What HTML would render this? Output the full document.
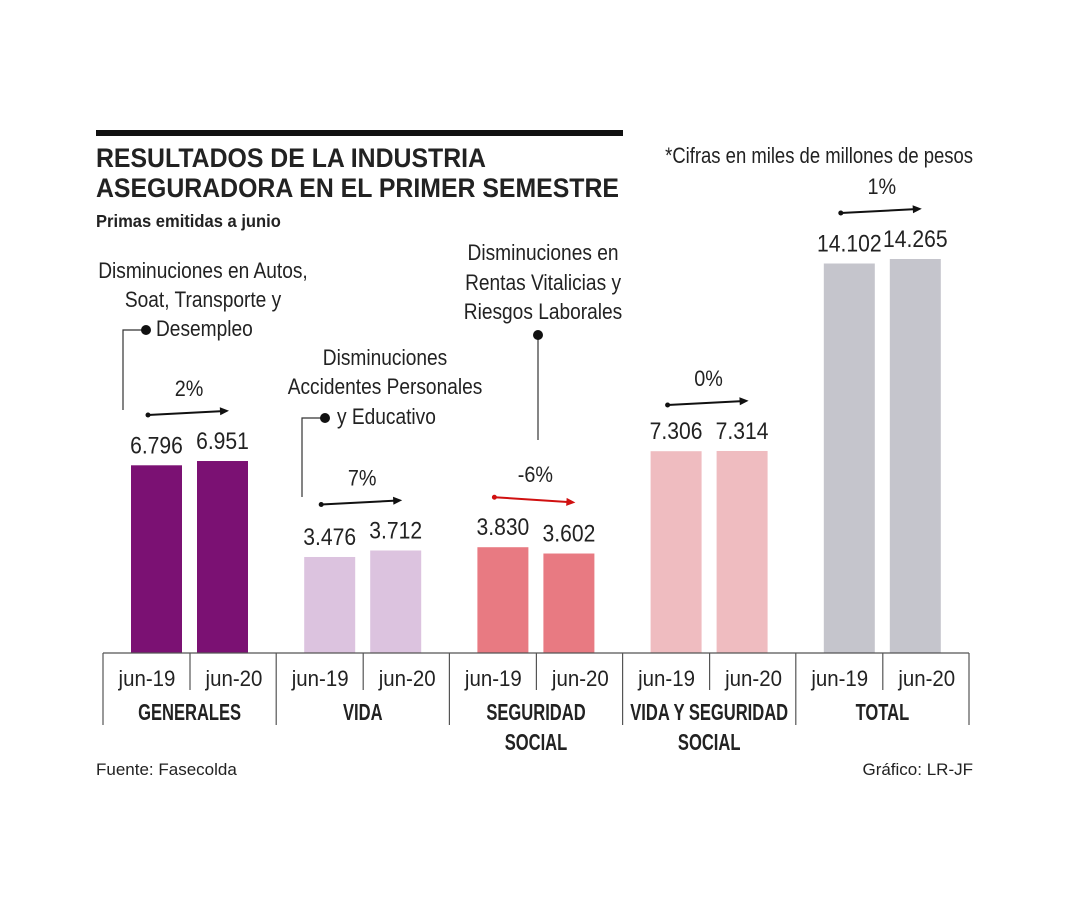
<!DOCTYPE html>
<html><head><meta charset="utf-8">
<style>
html,body{margin:0;padding:0;background:#fff;}
body{width:1080px;height:900px;overflow:hidden;position:relative;}
svg{position:absolute;left:0;top:0;}
text{font-family:"Liberation Sans Narrow","Liberation Sans",sans-serif;fill:#222;transform-box:fill-box;transform:scaleX(var(--s,1));}
text[text-anchor="middle"]{transform-origin:center;}
text[text-anchor="end"]{transform-origin:right;}
text:not([text-anchor]){transform-origin:left;}
</style></head>
<body>
<svg id="chart" width="1080" height="900" viewBox="0 0 1080 900">
  <rect x="96" y="130" width="527" height="6" fill="#111"/>
  <text x="96" y="167" font-size="27" font-weight="bold" fill="#111" style="--s:0.92">RESULTADOS DE LA INDUSTRIA</text>
  <text x="96" y="197" font-size="27" font-weight="bold" fill="#111" style="--s:0.92">ASEGURADORA EN EL PRIMER SEMESTRE</text>
  <text x="96" y="227" font-size="18" font-weight="bold" fill="#111" style="--s:0.92">Primas emitidas a junio</text>
  <text x="973" y="163" font-size="22" text-anchor="end" fill="#333" style="--s:0.84">*Cifras en miles de millones de pesos</text>
  <text x="96" y="775" font-size="17" fill="#444">Fuente:  Fasecolda</text>
  <text x="973" y="775" font-size="17" text-anchor="end" fill="#444">Gráfico: LR-JF</text>
  <g id="annot" font-size="22" fill="#333">
    <text x="203" y="278" text-anchor="middle" style="--s:0.87">Disminuciones en Autos,</text>
    <text x="203" y="307" text-anchor="middle" style="--s:0.87">Soat, Transporte y</text>
    <text x="156" y="336" style="--s:0.87">Desempleo</text>
    <polyline points="123,410 123,330 146,330" fill="none" stroke="#333" stroke-width="1.2"/>
    <circle cx="146" cy="330" r="5" fill="#111"/>
    <text x="385" y="365" text-anchor="middle" style="--s:0.87">Disminuciones</text>
    <text x="385" y="394" text-anchor="middle" style="--s:0.87">Accidentes Personales</text>
    <text x="337" y="424" style="--s:0.87">y Educativo</text>
    <polyline points="302,497 302,418 325,418" fill="none" stroke="#333" stroke-width="1.2"/>
    <circle cx="325" cy="418" r="5" fill="#111"/>
    <text x="543" y="260" text-anchor="middle" style="--s:0.87">Disminuciones en</text>
    <text x="543" y="290" text-anchor="middle" style="--s:0.87">Rentas Vitalicias y</text>
    <text x="543" y="319" text-anchor="middle" style="--s:0.87">Riesgos Laborales</text>
    <line x1="538" y1="335" x2="538" y2="440" stroke="#333" stroke-width="1.2"/>
    <circle cx="538" cy="335" r="5" fill="#111"/>
  </g>
  <g id="plot"></g>
</svg>
<script>
const categories = ["GENERALES","VIDA","SEGURIDAD|SOCIAL","VIDA Y SEGURIDAD|SOCIAL","TOTAL"];
const periods = ["jun-19","jun-20"];
const values19 = [6796, 3476, 3830, 7306, 14102];
const values20 = [6951, 3712, 3602, 7314, 14265];
const valueLabels19 = ["6.796","3.476","3.830","7.306","14.102"];
const valueLabels20 = ["6.951","3.712","3.602","7.314","14.265"];
const changeLabels = ["2%","7%","-6%","0%","1%"];
const colors = ["#7b1173","#dcc3df","#e87a82","#efbcc0","#c5c5cc"];

const NS="http://www.w3.org/2000/svg";
const g=document.getElementById('plot');
const baseY=653, maxVal=14265, maxH=394;
const groupLeft=103, groupW=173.2;
function y(v){return baseY - v/maxVal*maxH;}
function groupX(i){return groupLeft + i*groupW;}
function mk(tag,attrs){const e=document.createElementNS(NS,tag);for(const k in attrs)e.setAttribute(k,attrs[k]);g.appendChild(e);return e;}

categories.forEach((c,i)=>{
  const gx=groupX(i);
  const vals=[values19[i],values20[i]];
  const labs=[valueLabels19[i],valueLabels20[i]];
  const xs=[gx+28, gx+94];
  vals.forEach((v,j)=>{
    const r=mk('rect',{x:xs[j],y:y(v),width:51,height:baseY-y(v),fill:colors[i]});
    
    
    const t=mk('text',{x:xs[j]+25.5,y:y(v)-12,'font-size':24,'text-anchor':'middle',fill:'#111',style:'--s:0.88'});
    t.textContent=labs[j];
    
    
    const pt=mk('text',{x:gx+44+j*87,y:686,'font-size':22,'text-anchor':'middle',fill:'#222',style:'--s:0.93'});
    pt.textContent=periods[j];
    
    
  });
  const top=Math.min(y(vals[0]),y(vals[1]));
  const ay=top-50;
  const x1=gx+45, x2=gx+122;
  const up=(vals[1]-vals[0])>=0;
  const col=changeLabels[i].startsWith('-')?'#d01010':'#111';
  const sy=up?ay+4:ay, ey=up?ay:ay+5;
  const ln=mk('line',{x1:x1,y1:sy,x2:x2,y2:ey,stroke:col,'stroke-width':2});
  
  
  mk('circle',{cx:x1,cy:sy,r:2.5,fill:col});
  const ang=Math.atan2(ey-sy,x2-x1);
  const hx=x2+4*Math.cos(ang), hy=ey+4*Math.sin(ang);
  mk('polygon',{points:`${hx},${hy} ${hx-9*Math.cos(ang)+4*Math.sin(ang)},${hy-9*Math.sin(ang)-4*Math.cos(ang)} ${hx-9*Math.cos(ang)-4*Math.sin(ang)},${hy-9*Math.sin(ang)+4*Math.cos(ang)}`,fill:col});
  const ct=mk('text',{x:gx+86,y:ay-15,'font-size':22,'text-anchor':'middle',fill:'#222',style:'--s:0.9'});
  ct.textContent=changeLabels[i];
  
  
  const parts=c.split('|');
  parts.forEach((p,k)=>{
    const ctt=mk('text',{x:gx+groupW/2,y:720+k*30,'font-size':23,'font-weight':'bold','text-anchor':'middle',fill:'#111',style:'--s:0.72'});
    ctt.textContent=p;
    
    
  });
  mk('line',{x1:gx+87,y1:baseY,x2:gx+87,y2:690,stroke:'#555','stroke-width':1.2});
  mk('line',{x1:gx,y1:baseY,x2:gx,y2:725,stroke:'#555','stroke-width':1.2});
});
mk('line',{x1:groupX(5),y1:baseY,x2:groupX(5),y2:725,stroke:'#555','stroke-width':1.2});
const ax=mk('line',{x1:groupLeft,y1:baseY,x2:groupX(5),y2:baseY,stroke:'#555','stroke-width':1.2});


</script>
</body></html>
